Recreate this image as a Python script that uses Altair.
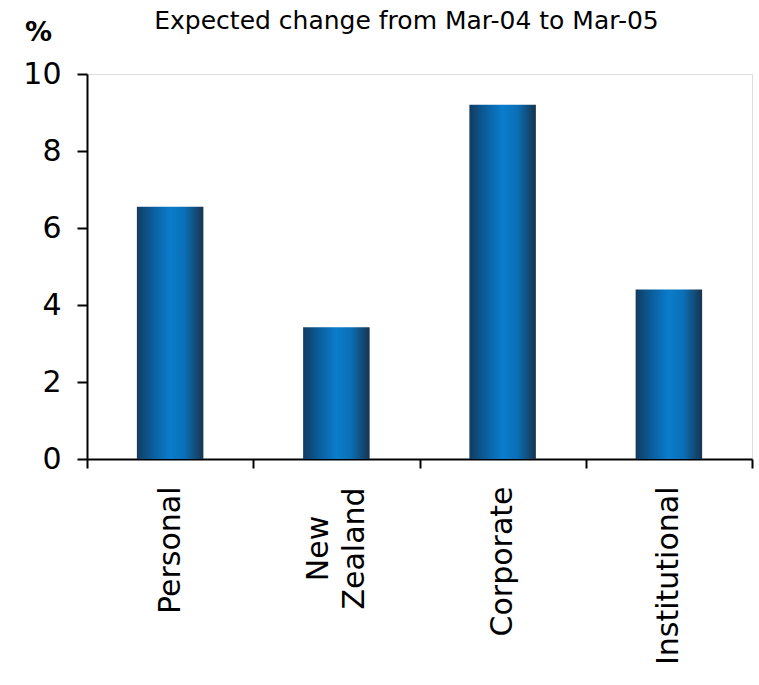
import altair as alt
import pandas as pd

categories = ["Personal", "New Zealand", "Corporate", "Institutional"]
values = [6.55, 3.42, 9.2, 4.4]
y_ticks = [0, 2, 4, 6, 8, 10]
title_text = "Expected change from Mar-04 to Mar-05"
unit_text = "%"

df = pd.DataFrame({"segment": categories, "change": values})

W, H = 665, 385
FONT = "DejaVu Sans"

gradient = alt.Gradient(
    gradient="linear", x1=0, x2=1, y1=0, y2=0,
    stops=[
        alt.GradientStop(color="#123c60", offset=0),
        alt.GradientStop(color="#0a5f9e", offset=0.25),
        alt.GradientStop(color="#0a7dcc", offset=0.5),
        alt.GradientStop(color="#0a6fb6", offset=0.72),
        alt.GradientStop(color="#17344f", offset=1),
    ],
)

NZ = "datum.value == 'New Zealand'"

bars = alt.Chart(df).mark_bar(color=gradient, width=alt.RelativeBandSize(0.4)).encode(
    x=alt.X(
        "segment:N", sort=categories,
        scale=alt.Scale(paddingInner=0, paddingOuter=0),
        axis=alt.Axis(
            title=None, labelAngle=-90,
            labelAlign={"condition": {"test": NZ, "value": "center"}, "value": "right"},
            labelPadding={"condition": {"test": NZ, "value": 80}, "value": 18},
            labelOffset={"condition": {"test": NZ, "value": -18}, "value": 0},
            labelBaseline="middle",
            labelExpr="datum.value == 'New Zealand' ? ['New', 'Zealand'] : datum.label",
            labelLineHeight=36,
            labelFont=FONT, labelFontSize=30, labelColor="black", labelLimit=400,
            labelOverlap=False,
            tickBand="extent", tickSize=9, tickWidth=2, tickColor="black",
            domainColor="black", domainWidth=2, grid=False,
        ),
    ),
    y=alt.Y(
        "change:Q",
        scale=alt.Scale(domain=[0, 10], nice=False),
        axis=alt.Axis(
            values=y_ticks, title=unit_text, titleAngle=0, titleX=-49, titleY=-34,
            titleAlign="center", titleBaseline="alphabetic", titleFont=FONT,
            titleFontSize=27, titleFontWeight="bold", titleColor="black",
            labelFont=FONT, labelFontSize=30, labelColor="black", labelPadding=16,
            tickSize=10, tickWidth=2, tickColor="black",
            domainColor="black", domainWidth=2, grid=False,
        ),
    ),
)

chart = bars.properties(
    width=W, height=H,
    title=alt.TitleParams(
        title_text, font=FONT, fontSize=25, fontWeight="normal", color="black",
        anchor="middle", offset=-16, dx=-13,
    ),
    autosize=alt.AutoSizeParams(type="none"),
    padding={"left": 87, "top": 74, "right": 7, "bottom": 226},
).configure_view(stroke=None).configure(background="white")

chart.save("out.html", embed_options={"renderer": "svg", "actions": False})
